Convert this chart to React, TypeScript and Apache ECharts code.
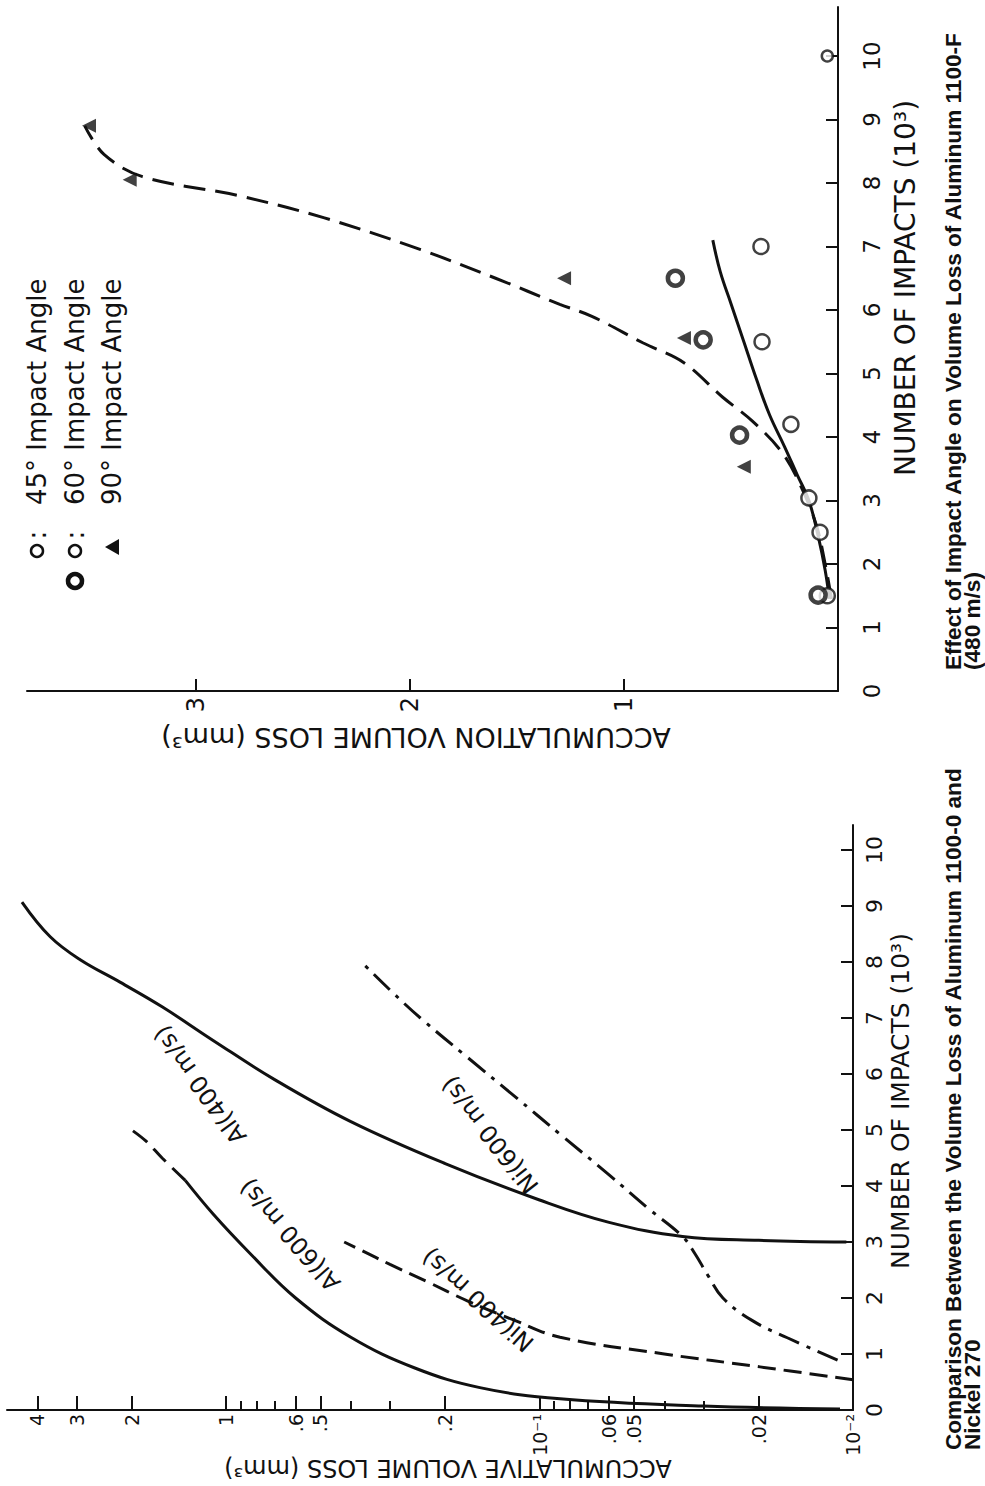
import React, { useEffect, useRef } from "react";
import * as echarts from "echarts";

// ---------------- shared ----------------
const impactTicks = [0, 1, 2, 3, 4, 5, 6, 7, 8, 9, 10];

// ---------------- upper chart: Effect of Impact Angle (linear loss) ----------------
const topLossTicks = [1, 2, 3];
// [volume loss mm3, impacts x10^3]
const fitLowAngle = [
  [0.04, 1.45], [0.06, 1.9], [0.09, 2.4], [0.136, 3.0], [0.19, 3.4], [0.25, 3.85],
  [0.32, 4.35], [0.38, 4.9], [0.44, 5.5], [0.5, 6.1], [0.55, 6.6], [0.585, 7.1],
];
const fit90 = [
  [0.03, 1.45], [0.06, 2.0], [0.1, 2.6], [0.17, 3.2], [0.26, 3.75], [0.4, 4.25],
  [0.54, 4.63], [0.72, 5.17], [0.91, 5.48], [1.15, 5.9], [1.3, 6.09], [1.6, 6.5],
  [1.95, 6.95], [2.4, 7.45], [2.8, 7.8], [3.25, 8.1], [3.43, 8.45], [3.52, 8.9],
];
const pts45 = [
  [0.05, 10], [0.36, 7], [0.355, 5.5], [0.22, 4.2], [0.136, 3.04], [0.084, 2.5], [0.05, 1.5],
];
const pts60 = [[0.76, 6.5], [0.63, 5.53], [0.46, 4.03], [0.093, 1.51]];
const pts90 = [[0.44, 3.53], [0.72, 5.56], [1.28, 6.5], [3.31, 8.05], [3.5, 8.9]];

// ---------------- lower chart: Al 1100-0 vs Ni 270 (log loss) ----------------
const logMajorTicks = [4, 3, 2, 1, 0.6, 0.5, 0.2, 0.1, 0.06, 0.05, 0.02, 0.01];
const logMajorLabels = ["4", "3", "2", "1", ".6", ".5", ".2", "10⁻¹", ".06", ".05", ".02", "10⁻²"];
const logMinorTicks = [0.9, 0.8, 0.7, 0.4, 0.3, 0.09, 0.08, 0.07, 0.04, 0.03];

const al600 = [
  [0.011, 0.02], [0.03, 0.07], [0.086, 0.2], [0.155, 0.4], [0.25, 0.75], [0.4, 1.3],
  [0.6, 2.0], [0.84, 2.8], [1.1, 3.5], [1.35, 4.1],
];
const al600Extension = [[1.35, 4.1], [1.6, 4.5], [1.8, 4.8], [2.0, 5.0]];
const al400 = [
  [0.0105, 3.0], [0.02, 3.03], [0.035, 3.1], [0.06, 3.35], [0.1, 3.75], [0.2, 4.4],
  [0.4, 5.15], [0.7, 5.9], [1.1, 6.6], [1.6, 7.2], [2.18, 7.64], [2.92, 8.04],
  [3.64, 8.45], [4.48, 9.07],
];
const ni600 = [
  [0.0112, 0.89], [0.0162, 1.29], [0.021, 1.6], [0.026, 2.0], [0.029, 2.4], [0.032, 2.8],
  [0.035, 3.1], [0.045, 3.6], [0.06, 4.2], [0.085, 4.9], [0.12, 5.6], [0.17, 6.3],
  [0.24, 7.0], [0.3, 7.5], [0.37, 8.0],
];
const ni400 = [
  [0.01, 0.54], [0.0198, 0.77], [0.04, 1.0], [0.086, 1.3], [0.12, 1.6], [0.17, 1.95],
  [0.23, 2.3], [0.3, 2.6], [0.37, 2.85], [0.42, 3.0],
];

const INK = "#111";
const FONT = "DejaVu Sans";
const CAP_FONT = "Liberation Sans";
const L10 = Math.log10;
const LOG_MIN = 0.01;
const LOG_MAX = 5;
const deg = (d: number) => (d * Math.PI) / 180;

function buildOption() {
  const axisLine = { onZero: false, lineStyle: { color: INK, width: 2 } };
  const tickStyle = { color: INK, width: 2 };

  const txt = (
    text: string,
    x: number,
    y: number,
    rotation: number,
    fontSize: number,
    extra: Record<string, any> = {}
  ) => ({
    type: "text",
    x,
    y,
    rotation,
    silent: true,
    style: {
      text,
      fontSize,
      fontFamily: FONT,
      fill: INK,
      align: "center",
      verticalAlign: "middle",
      ...extra,
    },
  });

  const majorLabel = (v: number) => {
    let best = "";
    let bestD = 1e9;
    logMajorTicks.forEach((t, i) => {
      const d = Math.abs(L10(t) - v);
      if (d < bestD) {
        bestD = d;
        best = logMajorLabels[i];
      }
    });
    return bestD < 1e-3 ? best : "";
  };

  const capStyle = { align: "left", fontFamily: CAP_FONT, fontWeight: "bold" };

  return {
    animation: false,
    backgroundColor: "#fff",
    grid: [
      { left: 27, top: 7, width: 811, height: 684, outerBoundsMode: "none" },
      { left: 7, top: 825, width: 846, height: 585, outerBoundsMode: "none" },
    ],
    xAxis: [
      {
        gridIndex: 0,
        type: "value",
        position: "bottom",
        inverse: true,
        min: 0,
        max: 811 / 214,
        axisLine,
        splitLine: { show: false },
        axisTick: { customValues: topLossTicks, inside: true, length: 12, lineStyle: tickStyle },
        axisLabel: {
          customValues: topLossTicks,
          rotate: 90,
          margin: 6,
          fontSize: 24,
          fontFamily: FONT,
          color: INK,
        },
      },
      {
        gridIndex: 1,
        type: "log",
        logBase: 10,
        position: "bottom",
        inverse: true,
        min: LOG_MIN,
        max: LOG_MAX,
        show: false,
        splitLine: { show: false },
      },
      {
        gridIndex: 1,
        type: "value",
        position: "bottom",
        inverse: true,
        min: L10(LOG_MIN),
        max: L10(LOG_MAX),
        axisLine,
        splitLine: { show: false },
        axisTick: {
          customValues: logMajorTicks.map(L10),
          inside: true,
          length: 14,
          lineStyle: tickStyle,
        },
        axisLabel: {
          customValues: logMajorTicks.map(L10),
          rotate: 90,
          margin: 4,
          fontSize: 19,
          fontFamily: FONT,
          color: INK,
          formatter: (v: number) => majorLabel(v),
        },
      },
      {
        gridIndex: 1,
        type: "value",
        position: "bottom",
        inverse: true,
        min: L10(LOG_MIN),
        max: L10(LOG_MAX),
        axisLine: { show: false },
        splitLine: { show: false },
        axisTick: {
          customValues: logMinorTicks.map(L10),
          inside: true,
          length: 9,
          lineStyle: tickStyle,
        },
        axisLabel: { show: false },
      },
    ],
    yAxis: [
      {
        gridIndex: 0,
        type: "value",
        position: "right",
        min: 0,
        max: 684 / 63.5,
        axisLine,
        splitLine: { show: false },
        axisTick: { customValues: impactTicks, inside: true, length: 12, lineStyle: tickStyle },
        axisLabel: {
          customValues: impactTicks,
          rotate: 90,
          margin: 22,
          fontSize: 23,
          fontFamily: FONT,
          color: INK,
        },
      },
      {
        gridIndex: 1,
        type: "value",
        position: "right",
        min: 0,
        max: 585 / 56,
        axisLine,
        splitLine: { show: false },
        axisTick: { customValues: impactTicks, inside: true, length: 12, lineStyle: tickStyle },
        axisLabel: {
          customValues: impactTicks,
          rotate: 90,
          margin: 10,
          fontSize: 22,
          fontFamily: FONT,
          color: INK,
        },
      },
    ],
    series: [
      {
        type: "line",
        name: "Fit 45°/60°",
        xAxisIndex: 0,
        yAxisIndex: 0,
        data: fitLowAngle,
        smooth: 0.4,
        symbol: "none",
        lineStyle: { color: INK, width: 3 },
        z: 2,
      },
      {
        type: "line",
        name: "Fit 90°",
        xAxisIndex: 0,
        yAxisIndex: 0,
        data: fit90,
        smooth: 0.35,
        symbol: "none",
        lineStyle: { color: INK, width: 3, type: [22, 10] },
        z: 2,
      },
      {
        type: "scatter",
        name: "45° Impact Angle",
        xAxisIndex: 0,
        yAxisIndex: 0,
        data: pts45,
        symbol: "circle",
        symbolSize: (v: number[]) => (v[1] >= 9.5 ? 11 : 15),
        itemStyle: { color: "#fff", borderColor: INK, borderWidth: 2.5 },
        z: 5,
      },
      {
        type: "scatter",
        name: "60° Impact Angle",
        xAxisIndex: 0,
        yAxisIndex: 0,
        data: pts60,
        symbol: "circle",
        symbolSize: 15,
        itemStyle: { color: "#fff", borderColor: INK, borderWidth: 4.5 },
        z: 5,
      },
      {
        type: "scatter",
        name: "90° Impact Angle",
        xAxisIndex: 0,
        yAxisIndex: 0,
        data: pts90,
        symbol: "triangle",
        symbolRotate: 90,
        symbolSize: 14,
        itemStyle: { color: INK },
        z: 5,
      },
      {
        type: "line",
        name: "Al(600 m/s)",
        xAxisIndex: 1,
        yAxisIndex: 1,
        data: al600,
        smooth: 0.4,
        symbol: "none",
        lineStyle: { color: INK, width: 3 },
      },
      {
        type: "line",
        name: "Al(600 m/s) extension",
        xAxisIndex: 1,
        yAxisIndex: 1,
        data: al600Extension,
        smooth: 0.4,
        symbol: "none",
        lineStyle: { color: INK, width: 3, type: [18, 9] },
      },
      {
        type: "line",
        name: "Al(400 m/s)",
        xAxisIndex: 1,
        yAxisIndex: 1,
        data: al400,
        smooth: 0.4,
        symbol: "none",
        lineStyle: { color: INK, width: 3 },
      },
      {
        type: "line",
        name: "Ni(600 m/s)",
        xAxisIndex: 1,
        yAxisIndex: 1,
        data: ni600,
        smooth: 0.4,
        symbol: "none",
        lineStyle: { color: INK, width: 3, type: [22, 8, 4, 8] },
      },
      {
        type: "line",
        name: "Ni(400 m/s)",
        xAxisIndex: 1,
        yAxisIndex: 1,
        data: ni400,
        smooth: 0.4,
        symbol: "none",
        lineStyle: { color: INK, width: 3, type: [18, 8] },
      },
    ],
    graphic: [
      // axis titles
      txt("ACCUMULATION VOLUME LOSS (mm³)", 416, 737, Math.PI, 27),
      txt("NUMBER OF IMPACTS (10³)", 905, 288, Math.PI / 2, 28),
      txt("ACCUMULATIVE VOLUME LOSS (mm³)", 448, 1468, Math.PI, 24),
      txt("NUMBER OF IMPACTS (10³)", 900, 1101, Math.PI / 2, 25),
      // captions
      txt("Effect of Impact Angle on Volume Loss of Aluminum 1100-F", 953, 670, Math.PI / 2, 22.6, capStyle),
      txt("(480 m/s)", 972, 670, Math.PI / 2, 22.6, capStyle),
      txt("Comparison Between the Volume Loss of Aluminum 1100-0 and", 953, 1450, Math.PI / 2, 22.6, capStyle),
      txt("Nickel 270", 972, 1450, Math.PI / 2, 22.6, capStyle),
      // legend
      { type: "circle", silent: true, shape: { cx: 37, cy: 551, r: 6 }, style: { fill: "#fff", stroke: INK, lineWidth: 2.5 } },
      txt(":", 37, 535, Math.PI / 2, 26),
      txt("45° Impact Angle", 37, 505, Math.PI / 2, 26, { align: "left" }),
      { type: "circle", silent: true, shape: { cx: 75, cy: 551, r: 6 }, style: { fill: "#fff", stroke: INK, lineWidth: 2.5 } },
      { type: "circle", silent: true, shape: { cx: 75, cy: 581, r: 7 }, style: { fill: "#fff", stroke: INK, lineWidth: 4.5 } },
      txt(":", 75, 535, Math.PI / 2, 26),
      txt("60° Impact Angle", 75, 505, Math.PI / 2, 26, { align: "left" }),
      {
        type: "polygon",
        silent: true,
        shape: { points: [[105, 547], [119, 539], [119, 555]] },
        style: { fill: INK },
      },
      txt("90° Impact Angle", 112, 505, Math.PI / 2, 26, { align: "left" }),
      // curve labels (lower chart)
      txt("Al(400 m/s)", 200, 1085, deg(126), 24),
      txt("Ni(600 m/s)", 490, 1135, deg(128), 24),
      txt("Al(600 m/s)", 290, 1235, deg(131), 24),
      txt("Ni(400 m/s)", 478, 1300, deg(138), 24),
    ],
  };
}

export default function App() {
  const ref = useRef<HTMLDivElement>(null);
  useEffect(() => {
    if (!ref.current) return;
    const chart = echarts.init(ref.current, null, { renderer: "svg" });
    chart.setOption(buildOption() as any);
    return () => chart.dispose();
  }, []);
  return (
    <div
      ref={ref}
      style={{ position: "absolute", left: 0, top: 0, width: 985, height: 1486, background: "#fff" }}
    />
  );
}
